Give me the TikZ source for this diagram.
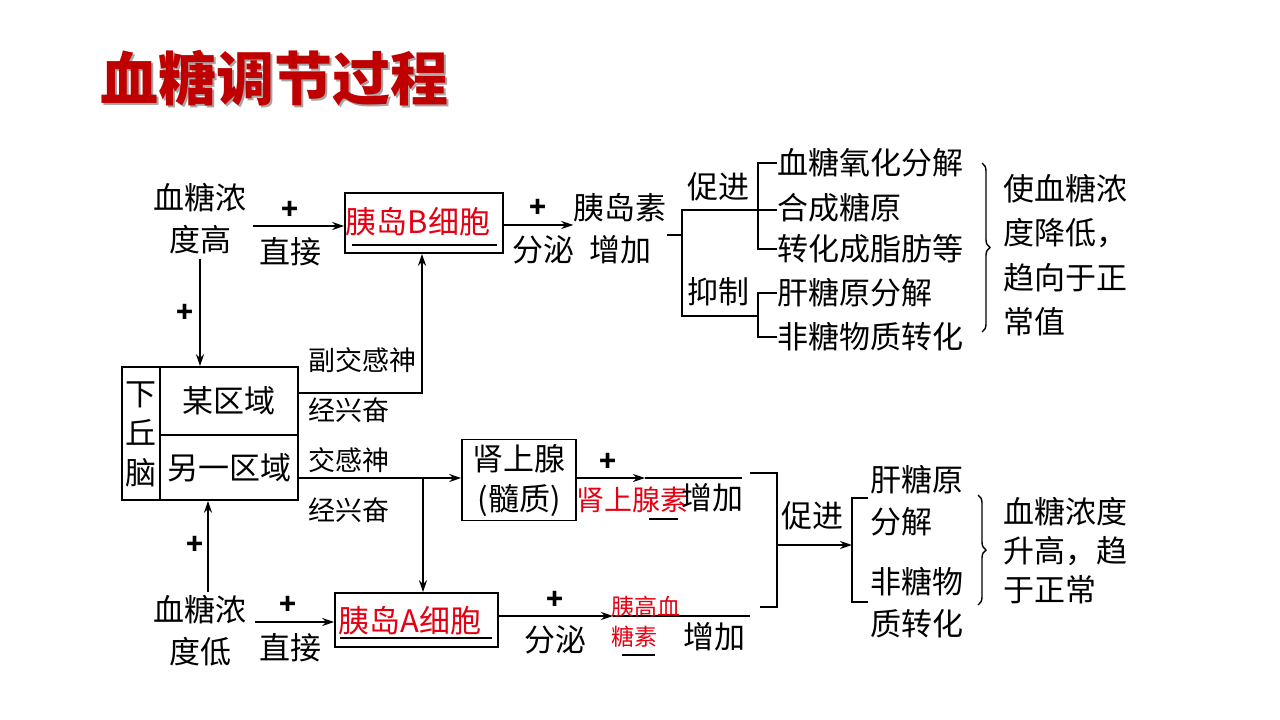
\documentclass[tikz,border=0pt]{standalone}
\usepackage{fontspec}
\setmainfont{Noto Sans CJK SC}
\usetikzlibrary{arrows.meta}
\usetikzlibrary{positioning}
\usetikzlibrary{decorations.pathreplacing}
\definecolor{titlered}{RGB}{192,0,0}
\definecolor{cellred}{RGB}{230,0,18}

\begin{document}
\begin{tikzpicture}
  [x=1pt, y=-1pt,
   txt/.style={inner sep=0pt, font=\fontsize{31}{42}\selectfont},
   lbl/.style={inner sep=0pt, font=\fontsize{27}{32}\selectfont},
   sgn/.style={inner sep=0pt, font=\fontsize{28}{30}\selectfont\bfseries},
   cell/.style={draw, line width=1.6pt, inner sep=0pt},
   link/.style={line width=1.5pt},
   arr/.style={link, -{Stealth[length=12pt, width=8pt]}},
   brc/.style={line width=1.4pt, decorate, decoration={brace, amplitude=8pt}},
  ]
  \useasboundingbox[fill=white] (0,0) rectangle (1280,720);

  \node[inner sep=0pt, anchor=west, text=black!35, font=\fontsize{58}{60}\selectfont\bfseries]
    (titleShadow) at (102,80) {血糖调节过程};
  \node[inner sep=0pt, anchor=west, text=titlered, font=\fontsize{58}{60}\selectfont\bfseries]
    (title) at (100,78) {血糖调节过程};

  % upper half
  \node[txt, align=center] (high) at (200,219) {血糖浓\\度高};
  \node[cell, minimum width=158, minimum height=60] (cellB) at (424,223) {};
  \node[txt, text=cellred] (cellBtxt) at (418,222) {胰岛B细胞};
  \draw[line width=1.2pt] (352,245) -- (497,245);
  \node[sgn] (plusHB) at (290,210) {+};
  \node[txt] (directB) at (290,252) {直接};
  \node[txt, align=center] (insulin) at (620,229) {胰岛素\\增加};
  \node[sgn] (plusS) at (538,208) {+};
  \node[txt] (secreteB) at (543,250) {分泌};
  \draw[arr] ([xshift=6pt]high.east |- 0,226) -- (cellB.west |- 0,226);
  \draw[arr] (cellB.east |- 0,225) -- (insulin.west |- 0,225);

  \coordinate (fork) at (682,235);
  \coordinate (pA) at (758,210);
  \coordinate (pB) at (758,316);
  \node[txt] (promoteA) at (718,187) {促进};
  \node[txt] (inhibit) at (718,292) {抑制};
  \node[txt, anchor=west] (e1) at (777,163) {血糖氧化分解};
  \node[txt, anchor=west] (e2) at (777,208) {合成糖原};
  \node[txt, anchor=west] (e3) at (777,249) {转化成脂肪等};
  \node[txt, anchor=west] (e4) at (777,293) {肝糖原分解};
  \node[txt, anchor=west] (e5) at (777,337) {非糖物质转化};
  \draw[link] ([yshift=-6pt]insulin.east) -- (fork);
  \draw[link] (fork) |- (pA);
  \draw[link] (fork) |- (pB);
  \draw[link] (pA) |- (e1.west);
  \draw[link] (pA) -- (e2.west |- pA);
  \draw[link] (pA) |- (e3.west);
  \draw[link] (pB) ++(0,-24) coordinate (pBt) |- (e4.west);
  \draw[link] (pBt) |- (e5.west);
  \draw[brc] (982,163) -- (982,332);
  \node[txt, anchor=west, align=left, font=\fontsize{31}{44.5}\selectfont]
    (resultDown) at (1003,255) {使血糖浓\\度降低，\\趋向于正\\常值};

  % hypothalamus
  \node[cell, minimum width=138, minimum height=68] (region1) at (229,401) {};
  \node[cell, minimum width=138, minimum height=65] (region2) at (229,467.5) {};
  \node[cell, minimum width=38, minimum height=133] (hypo) at (141,433.5) {};
  \node[txt] at (region1) {某区域};
  \node[txt] at (region2) {另一区域};
  \node[txt, align=center, font=\fontsize{31}{39.5}\selectfont] (hypoTxt) at (141,434) {下\\丘\\脑};
  \draw[arr] (high.south) ++(0,4) -- (high.south |- region1.north);
  \node[sgn] (plusH) at (185,313) {+};

  \coordinate (pn) at (422,393);
  \draw[arr] (region1.east |- pn) -| (cellB.south -| pn);
  \node[lbl, anchor=west] (para1) at (308,360) {副交感神};
  \node[lbl, anchor=west] (para2) at (308,410) {经兴奋};

  \node[cell, minimum width=114, minimum height=81, align=center, font=\fontsize{31}{40}\selectfont]
    (adrenal) at (519,480) {肾上腺\\(髓质)};
  \coordinate (sn) at (423,478);
  \draw[arr] (region2.east |- sn) -- (adrenal.west |- sn);
  \node[lbl, anchor=west] (symp1) at (308,460) {交感神};
  \node[lbl, anchor=west] (symp2) at (308,510) {经兴奋};

  % lower half
  \node[txt, align=center] (low) at (200,631) {血糖浓\\度低};
  \coordinate (lu) at (208,592);
  \draw[arr] (lu) -- (lu |- region2.south);
  \node[sgn] (plusL) at (195,545) {+};

  \node[cell, minimum width=163, minimum height=54] (cellA) at (416.5,620) {};
  \node[txt, text=cellred] (cellAtxt) at (410,621) {胰岛A细胞};
  \draw[line width=1.2pt] (340,638) -- (492,638);
  \draw[arr] (sn) -- (sn |- cellA.north);
  \node[sgn] (plusLA) at (288,605) {+};
  \node[txt] (directA) at (290,648) {直接};
  \draw[arr] ([xshift=8pt]low.east |- 0,622) -- (cellA.west |- 0,622);

  % adrenaline
  \coordinate (ae) at (645,478);
  \coordinate (aj) at (742,478);
  \draw[arr] (adrenal.east |- ae) -- (ae);
  \draw[link] (ae) -- (aj);
  \node[sgn] (plusAd) at (608,462) {+};
  \node[inner sep=0pt, text=cellred, font=\fontsize{28}{30}\selectfont] (adTxt) at (632,500) {肾上腺素};
  \node[txt] (adUp) at (712,498) {增加};
  \draw[line width=1.2pt] (649,519) -- (678,519);

  % glucagon
  \coordinate (ga) at (613,616);
  \coordinate (gb) at (750,616);
  \draw[arr] (cellA.east |- ga) -- (ga);
  \draw[link] (ga) -- (gb);
  \node[sgn] (plusSA) at (555,600) {+};
  \node[txt] (secreteA) at (555,640) {分泌};
  \node[inner sep=0pt, anchor=west, align=left, text=cellred, font=\fontsize{23}{30}\selectfont]
    (glTxt) at (611,622) {胰高血\\糖素};
  \node[txt] (glUp) at (714,637) {增加};
  \draw[line width=1.2pt] (622,655) -- (655,655);

  % joining bracket
  \coordinate (br1) at (750,473);
  \coordinate (br2) at (760,607);
  \coordinate (bm) at (777,545);
  \coordinate (lk) at (852,545);
  \draw[link] (br1) -| (bm) |- (br2);
  \draw[arr] (bm) -- (lk);
  \node[txt] (promoteB) at (812,516) {促进};
  \node[txt, anchor=west, align=left] (g1) at (870,501) {肝糖原\\分解};
  \node[txt, anchor=west, align=left] (g2) at (870,603) {非糖物\\质转化};
  \draw[link] ([xshift=-2pt]g1.west |- 0,498) -| (lk) |- ([xshift=-2pt]g2.west |- 0,602);
  \draw[brc] (978,495) -- (978,605);
  \node[txt, anchor=west, align=left, font=\fontsize{31}{39}\selectfont]
    (resultUp) at (1003,551) {血糖浓度\\升高，趋\\于正常};
\end{tikzpicture}
\end{document}
